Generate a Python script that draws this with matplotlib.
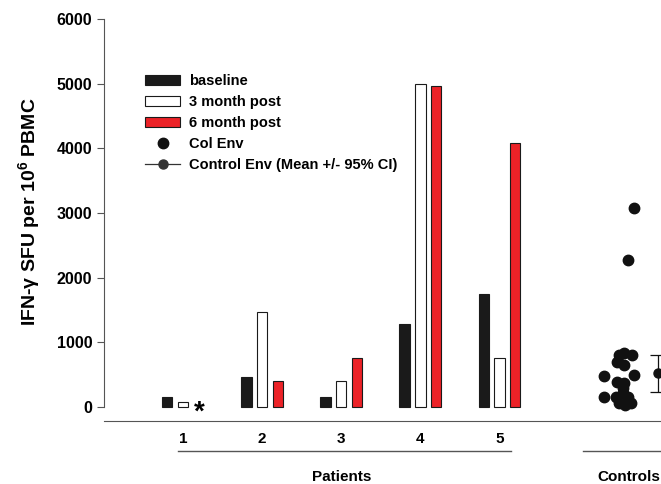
import numpy as np
import matplotlib
matplotlib.use("Agg")
import matplotlib.pyplot as plt
from matplotlib.lines import Line2D

plt.rcParams['font.family'] = ['Liberation Sans', 'DejaVu Sans']
plt.rcParams['font.weight'] = 'bold'
plt.rcParams['mathtext.fontset'] = 'custom'
plt.rcParams['mathtext.rm'] = 'Liberation Sans:bold'
plt.rcParams['mathtext.bf'] = 'Liberation Sans:bold'

# 数据
patients = [1, 2, 3, 4, 5]
baseline = [150, 470, 150, 1290, 1750]
month3 = [75, 1475, 400, 5000, 760]
month6 = [np.nan, 400, 755, 4960, 4090]

control_x = [6.70, 6.62, 6.51, 6.57, 6.67, 6.49, 6.57, 6.32, 6.70, 6.49,
             6.57, 6.56, 6.32, 6.47, 6.56, 6.63, 6.51, 6.59, 6.66]
control_y = [3070, 2275, 805, 836, 805, 697, 650, 480, 495, 387,
             372, 294, 150, 155, 217, 155, 62, 31, 62]
control_mean_x = 7.0
control_mean = 525
control_ci = (232, 805)

red = '#ec2227'
grey = '#555555'

fig = plt.figure(figsize=(6.61, 4.84), dpi=100)
ax = fig.add_axes([104 / 661, 63 / 484, 1 - 104 / 661 + 0.001, 402 / 484])

x = np.array(patients, dtype=float)
w = 0.13
b1 = ax.bar(x - 0.2, baseline, w, color='#1a1a1a', edgecolor='#1a1a1a', lw=0.8,
            label='baseline')
b2 = ax.bar(x, month3, w, color='white', edgecolor='#1a1a1a', lw=0.8,
            label='3 month post')
b3 = ax.bar(x + 0.2, month6, w, color=red, edgecolor='#1a1a1a', lw=0.8,
            label='6 month post')
# 缺失值
ax.text(1.21, -200, '*', ha='center', va='baseline', fontsize=20, fontweight='bold')

sc, = ax.plot(control_x, control_y, 'o', color='#111111', ms=7.5, ls='none',
              label='Col Env')
eb = ax.errorbar([control_mean_x], [control_mean],
                 yerr=[[control_mean - control_ci[0]], [control_ci[1] - control_mean]],
                 fmt='o', color='#111111', ms=6.5, capsize=6, elinewidth=0.9,
                 capthick=0.9, clip_on=False)
for a in eb.lines[1] + eb.lines[2]:
    a.set_clip_on(False)
eb_handle = Line2D([], [], color='#333333', marker='o', ms=6.5, lw=0.9)

ax.set_xlim(0, 7.05)
ax.set_ylim(-217, 6000)
ax.set_yticks([0, 1000, 2000, 3000, 4000, 5000, 6000])
ax.set_xticks(patients)
ax.tick_params(axis='x', length=0, pad=8, labelsize=11)
ax.tick_params(axis='y', length=5, labelsize=11.5, color=grey)
for lab in ax.get_xticklabels() + ax.get_yticklabels():
    lab.set_fontweight('bold')

ax.spines['top'].set_visible(False)
ax.spines['right'].set_visible(False)
ax.spines['left'].set_bounds(0, 6000)
ax.spines['left'].set_color(grey)
ax.spines['bottom'].set_color(grey)

ax.set_ylabel(r'IFN-γ SFU per 10$^{6}$ PBMC', fontsize=14, fontweight='bold')
ax.yaxis.set_label_coords(-0.11, 0.52)

# 分组线
trans = ax.get_xaxis_transform()
ax.plot([0.94, 5.15], [-0.075, -0.075], color=grey, lw=1, transform=trans,
        clip_on=False)
ax.plot([6.05, 7.1], [-0.075, -0.075], color=grey, lw=1, transform=trans,
        clip_on=False)
ax.text(3.0, -0.14, 'Patients', transform=trans, ha='center', va='center',
        fontsize=11, fontweight='bold')
ax.text(6.63, -0.14, 'Controls', transform=trans, ha='center', va='center',
        fontsize=11, fontweight='bold')

ax.legend([b1, b2, b3, sc, eb_handle],
          ['baseline', '3 month post', '6 month post', 'Col Env',
           'Control Env (Mean +/- 95% CI)'],
          loc='upper left', bbox_to_anchor=(0.074, 0.862), frameon=False,
          handlelength=2.4, handleheight=0.7, handletextpad=0.6,
          labelspacing=0.48, borderaxespad=0, borderpad=0,
          prop={'weight': 'bold', 'size': 10.5})

fig.savefig('out.png', dpi=100)
